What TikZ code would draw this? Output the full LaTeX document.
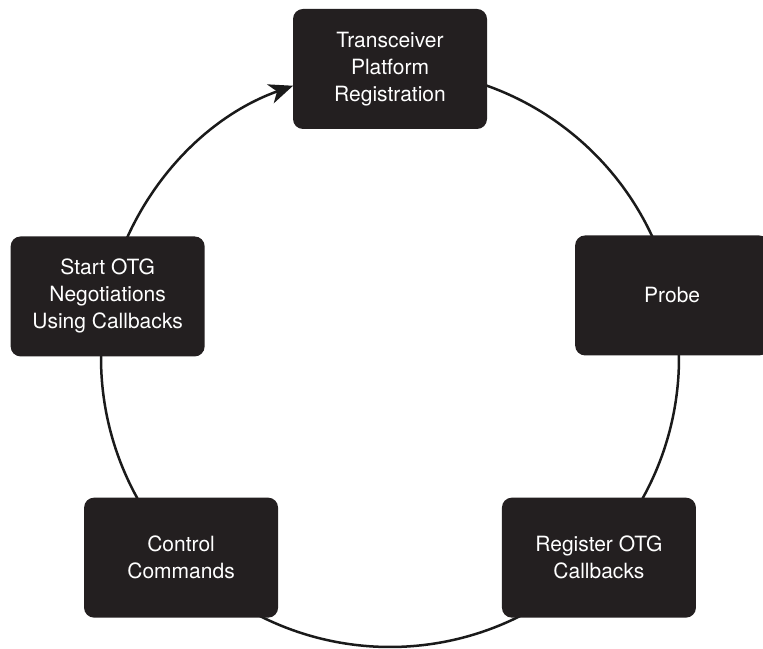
\documentclass[tikz,border=0pt]{standalone}
\usepackage{fontspec}
\setmainfont{TeX Gyre Heros}
\usetikzlibrary{arrows.meta, backgrounds, calc}
\definecolor{otgBox}{HTML}{231F20}
\definecolor{otgLine}{HTML}{1A1A1A}

\begin{document}
\begin{tikzpicture}[
  x=1pt, y=1pt,
  stage/.style={draw=none, fill=otgBox, rounded corners=10pt, align=center,
                minimum width=194pt, minimum height=120pt, text=white,
                font=\fontsize{21}{27}\selectfont},
  ring/.style={line width=2.5pt, color=otgLine},
  arr/.style={ring, -{Stealth[length=24pt, width=20pt, inset=7pt]}}
]
\useasboundingbox (0,0) rectangle (763,648);
\def\rad{289}
\coordinate (hub) at (390,290);

\node[stage] (reg)   at ($(hub)+(90:\rad)$)     {Transceiver\\Platform\\Registration};
\node[stage] (probe) at ($(hub)+(12.5:\rad)$)   {Probe};
\node[stage] (cbk)   at ($(hub)+(-43.7:\rad)$)  {Register OTG\\Callbacks};
\node[stage] (ctrl)  at ($(hub)+(-136.3:\rad)$) {Control\\Commands};
\node[stage] (nego)  at ($(hub)+(167.7:\rad)$)  {Start OTG\\Negotiations\\Using Callbacks};

% ring segments run under the boxes
\begin{scope}[on background layer]
  \draw[ring] (reg.center)   arc[start angle=90,     end angle=12.5,   radius=\rad];
  \draw[ring] (probe.center) arc[start angle=12.5,   end angle=-43.7,  radius=\rad];
  \draw[ring] (cbk.center)   arc[start angle=-43.7,  end angle=-136.3, radius=\rad];
  \draw[ring] (ctrl.center)  arc[start angle=-136.3, end angle=-192.3, radius=\rad];
  \draw[arr]  (nego.center)  arc[start angle=167.7,  end angle=109.6,  radius=\rad];
\end{scope}

\end{tikzpicture}
\end{document}
